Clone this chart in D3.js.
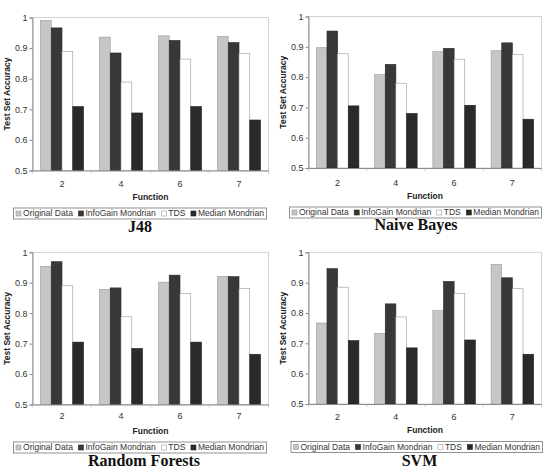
<!DOCTYPE html>
<html><head><meta charset="utf-8">
<script src="https://cdn.jsdelivr.net/npm/d3@7"></script>
<style>
html,body{margin:0;padding:0;background:#fff;}
svg{display:block;}
</style></head>
<body>
<svg id="c" width="546" height="473" style="font-family:'Liberation Sans',Arial,sans-serif"></svg>
<script>
const categories = ["2","4","6","7"];
const seriesNames = ["Original Data","InfoGain Mondrian","TDS","Median Mondrian"];
const yTicks = [0.5,0.6,0.7,0.8,0.9,1];
const panelTitles = ["J48","Naive Bayes","Random Forests","SVM"];

const j48Original = [0.990,0.936,0.940,0.938];
const j48InfoGain = [0.966,0.884,0.925,0.918];
const j48TDS      = [0.889,0.789,0.864,0.882];
const j48Median   = [0.709,0.688,0.709,0.665];

const nbOriginal = [0.897,0.808,0.884,0.887];
const nbInfoGain = [0.952,0.842,0.895,0.913];
const nbTDS      = [0.877,0.780,0.859,0.875];
const nbMedian   = [0.705,0.680,0.707,0.661];

const rfOriginal = [0.954,0.878,0.902,0.921];
const rfInfoGain = [0.969,0.883,0.925,0.920];
const rfTDS      = [0.890,0.788,0.864,0.881];
const rfMedian   = [0.705,0.684,0.705,0.665];

const svmOriginal = [0.767,0.733,0.808,0.960];
const svmInfoGain = [0.946,0.830,0.904,0.916];
const svmTDS      = [0.885,0.787,0.865,0.880];
const svmMedian   = [0.709,0.685,0.711,0.664];

const fills   = ["#c6c6c6","#383838","#ffffff","#2a2a2a"];
const strokes = ["#9a9a9a","#262626","#9a9a9a","#1e1e1e"];

const layouts = [
  {data:[j48Original,j48InfoGain,j48TDS,j48Median], x0:32.5,x1:268.5,y0:17.5,y1:170.5, ytX:7.5, catY:184, fnY:197.5, leg:[13.5,208,253,11], title:[140,231.5]},
  {data:[nbOriginal,nbInfoGain,nbTDS,nbMedian], x0:308.5,x1:541.5,y0:16.5,y1:168, ytX:283, catY:182.5, fnY:195.7, leg:[289.5,207,252,11], title:[416,230]},
  {data:[rfOriginal,rfInfoGain,rfTDS,rfMedian], x0:32.5,x1:268.5,y0:252.3,y1:404.5, ytX:7.5, catY:416, fnY:431, leg:[13.5,442,253,11], title:[144,466]},
  {data:[svmOriginal,svmInfoGain,svmTDS,svmMedian], x0:308.5,x1:541.5,y0:252.3,y1:404, ytX:283, catY:416.7, fnY:430, leg:[291,441.5,251.5,11], title:[419.5,466]}
];

const svg = d3.select("#c");

layouts.forEach((L, pi) => {
  const g = svg.append("g");
  const x = d3.scaleBand().domain(categories).range([L.x0, L.x1]).paddingInner(0.27).paddingOuter(0.135);
  const xs = d3.scaleBand().domain(seriesNames).range([0, x.bandwidth()]);
  const y = d3.scaleLinear().domain([0.5, 1]).range([L.y1, L.y0]);

  g.append("rect").attr("x", L.x0).attr("y", y(1)).attr("width", L.x1 - L.x0).attr("height", L.y1 - L.y0)
    .attr("fill", "none").attr("stroke", "#c8c8c8").attr("stroke-width", 0.8);

  seriesNames.forEach((s, si) => {
    g.append("g").selectAll("rect").data(L.data[si]).join("rect")
      .attr("x", (d, i) => x(categories[i]) + xs(s))
      .attr("y", d => y(d))
      .attr("width", xs.bandwidth())
      .attr("height", d => y(0.5) - y(d))
      .attr("fill", fills[si])
      .attr("stroke", strokes[si])
      .attr("stroke-width", 0.6);
  });

  const ya = g.append("g").attr("transform", `translate(${L.x0},0)`)
    .call(d3.axisLeft(y).tickValues(yTicks).tickSize(3).tickPadding(2)
      .tickFormat(d => d === 1 ? "1" : d3.format(".1f")(d)));
  ya.select(".domain").attr("stroke", "#8a8a8a");
  ya.selectAll(".tick line").attr("stroke", "#8a8a8a");
  ya.selectAll("text").style("font-size", "9px").style("font-family", "'Liberation Sans',Arial,sans-serif").attr("fill", "#333");

  const xa = g.append("g").attr("transform", `translate(0,${L.y1})`)
    .call(d3.axisBottom(x).tickSize(0).tickFormat(""));
  xa.select(".domain").attr("stroke", "#8a8a8a");
  g.append("g").selectAll("line").data(d3.range(categories.length + 1)).join("line")
    .attr("x1", i => L.x0 + i * (L.x1 - L.x0) / categories.length)
    .attr("x2", i => L.x0 + i * (L.x1 - L.x0) / categories.length)
    .attr("y1", L.y1).attr("y2", L.y1 + 3)
    .attr("stroke", "#aaa").attr("stroke-width", 0.6);
  g.append("g").selectAll("text").data(categories).join("text")
    .attr("x", d => x(d) + x.bandwidth() / 2)
    .attr("y", L.catY).attr("dy", "0.35em")
    .attr("text-anchor", "middle").style("font-size", "9px").attr("fill", "#333")
    .text(d => d);

  g.append("text").attr("x", (L.x0 + L.x1) / 2).attr("y", L.fnY).attr("dy", "0.35em")
    .attr("text-anchor", "middle").style("font-size", "8.5px").style("font-weight", "bold").attr("fill", "#222")
    .text("Function");
  g.append("text").attr("transform", `translate(${L.ytX},${(L.y0 + L.y1) / 2}) rotate(-90)`)
    .attr("dy", "0.35em").attr("text-anchor", "middle").style("font-size", "8.5px").style("font-weight", "bold").attr("fill", "#222")
    .text("Test Set Accuracy");

  // legend
  const [lx, ly, lw, lh] = L.leg;
  const lg = g.append("g");
  lg.append("rect").attr("x", lx).attr("y", ly).attr("width", lw).attr("height", lh)
    .attr("fill", "#fff").attr("stroke", "#777").attr("stroke-width", 0.8);
  const sw = 5, sg = 2, minGap = 5.5;
  const texts = seriesNames.map(s => lg.append("text").style("font-size", "9px").attr("fill", "#333")
    .attr("y", ly + lh / 2).attr("dy", "0.35em").text(s));
  let widths = texts.map(t => t.node().getComputedTextLength());
  const avail = lw - 5 - seriesNames.length * (sw + sg) - (seriesNames.length - 1) * minGap;
  const k = Math.min(1, avail / d3.sum(widths));
  const fs = 9 * k;
  texts.forEach(t => t.style("font-size", fs + "px"));
  widths = texts.map(t => t.node().getComputedTextLength());
  const used = d3.sum(widths) + seriesNames.length * (sw + sg);
  const gap = (lw - 5 - used) / (seriesNames.length - 1);
  let cx = lx + 2.5;
  seriesNames.forEach((s, si) => {
    lg.append("rect").attr("x", cx).attr("y", ly + lh / 2 - sw / 2).attr("width", sw).attr("height", sw)
      .attr("fill", fills[si]).attr("stroke", strokes[si]).attr("stroke-width", 0.6);
    texts[si].attr("x", cx + sw + sg);
    cx += sw + sg + widths[si] + gap;
  });

  g.append("text").attr("x", L.title[0]).attr("y", L.title[1])
    .attr("text-anchor", "middle").style("font-family", "'Liberation Serif','Times New Roman',serif")
    .style("font-weight", "bold").style("font-size", "16px").attr("fill", "#111")
    .text(panelTitles[pi]);
});
</script>
</body></html>
